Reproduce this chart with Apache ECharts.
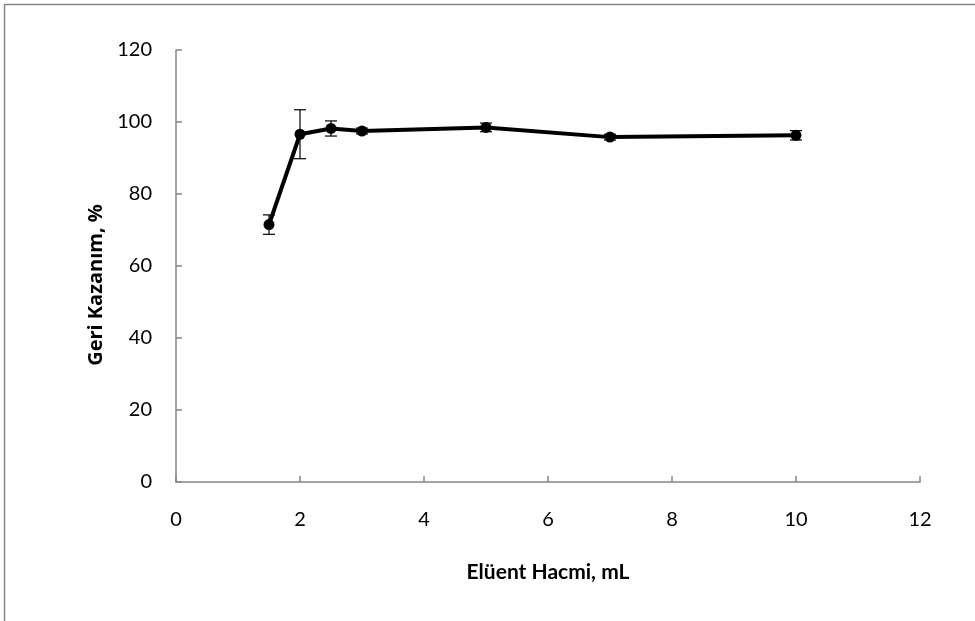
<!DOCTYPE html>
<html>
<head>
<meta charset="utf-8">
<script src="https://cdn.jsdelivr.net/npm/echarts@6/dist/echarts.min.js"></script>
<style>
  html, body { margin: 0; padding: 0; background: #fff; }
  #container { width: 975px; height: 621px; }
</style>
</head>
<body>
<div id="container"></div>
<script>
// 数据
var hacim = [1.5, 2, 2.5, 3, 5, 7, 10];          // Elüent Hacmi, mL
var kazanim = [71.5, 96.6, 98.2, 97.5, 98.5, 95.8, 96.3]; // Geri Kazanım, %
var hata = [2.7, 6.8, 2.1, 0.8, 1.2, 0.8, 1.3];  // standart sapma
var yTicks = [0, 20, 40, 60, 80, 100, 120];
var xTicks = [0, 2, 4, 6, 8, 10, 12];

var myChart = echarts.init(document.getElementById('container'));

var lineData = hacim.map(function (x, i) { return [x, kazanim[i]]; });
var errData = hacim.map(function (x, i) { return [x, kazanim[i] - hata[i], kazanim[i] + hata[i]]; });

var axisColor = '#868686';
var font = 'Lato, "Open Sans", sans-serif';

var option = {
    backgroundColor: '#fff',
    animation: false,
    graphic: [{
        type: 'rect',
        shape: { x: 4.5, y: 4.5, width: 1200, height: 1200 },
        style: { fill: 'none', stroke: axisColor, lineWidth: 1.5 },
        silent: true
    }],
    grid: { left: 176, right: 55, top: 50, bottom: 139 },
    xAxis: {
        type: 'value',
        min: 0, max: 12, interval: 2,
        name: 'Elüent Hacmi, mL',
        nameLocation: 'middle',
        nameGap: 80,
        nameTextStyle: { fontFamily: font, fontSize: 21, fontWeight: 'bold', color: '#000' },
        axisLine: { show: true, onZero: false, lineStyle: { color: axisColor, width: 1.5 } },
        axisTick: { show: true, inside: true, length: 6, lineStyle: { color: axisColor, width: 1.5 } },
        axisLabel: { margin: 28, fontFamily: font, fontSize: 20, color: '#000' },
        splitLine: { show: false }
    },
    yAxis: {
        type: 'value',
        min: 0, max: 120, interval: 20,
        name: 'Geri Kazanım, %',
        nameLocation: 'middle',
        nameGap: 70,
        nameRotate: 90,
        nameTextStyle: {
            fontFamily: '"Open Sans", sans-serif', fontSize: 20, fontWeight: 'bold', color: '#000',
            padding: [0, 38, 0, 0]
        },
        axisLine: { show: true, lineStyle: { color: axisColor, width: 1.5 } },
        axisTick: { show: true, inside: true, length: 6, lineStyle: { color: axisColor, width: 1.5 } },
        axisLabel: { margin: 24, fontFamily: font, fontSize: 20, color: '#000' },
        splitLine: { show: false }
    },
    series: [
        {
            type: 'custom',
            name: 'hata',
            data: errData,
            z: 3,
            renderItem: function (params, api) {
                var x = api.value(0);
                var lo = api.coord([x, api.value(1)]);
                var hi = api.coord([x, api.value(2)]);
                var w = 6;
                var st = { stroke: '#000', lineWidth: 1.2 };
                return {
                    type: 'group',
                    children: [
                        { type: 'line', shape: { x1: lo[0], y1: lo[1], x2: hi[0], y2: hi[1] }, style: st },
                        { type: 'line', shape: { x1: lo[0] - w, y1: lo[1], x2: lo[0] + w, y2: lo[1] }, style: st },
                        { type: 'line', shape: { x1: hi[0] - w, y1: hi[1], x2: hi[0] + w, y2: hi[1] }, style: st }
                    ]
                };
            }
        },
        {
            type: 'line',
            name: 'Geri Kazanım',
            data: lineData,
            z: 4,
            symbol: 'circle',
            symbolSize: 11,
            lineStyle: { color: '#000', width: 4 },
            itemStyle: { color: '#000' }
        }
    ]
};

myChart.setOption(option, true);

window.onresize = function () {
    myChart.resize();
};
</script>
</body>
</html>
